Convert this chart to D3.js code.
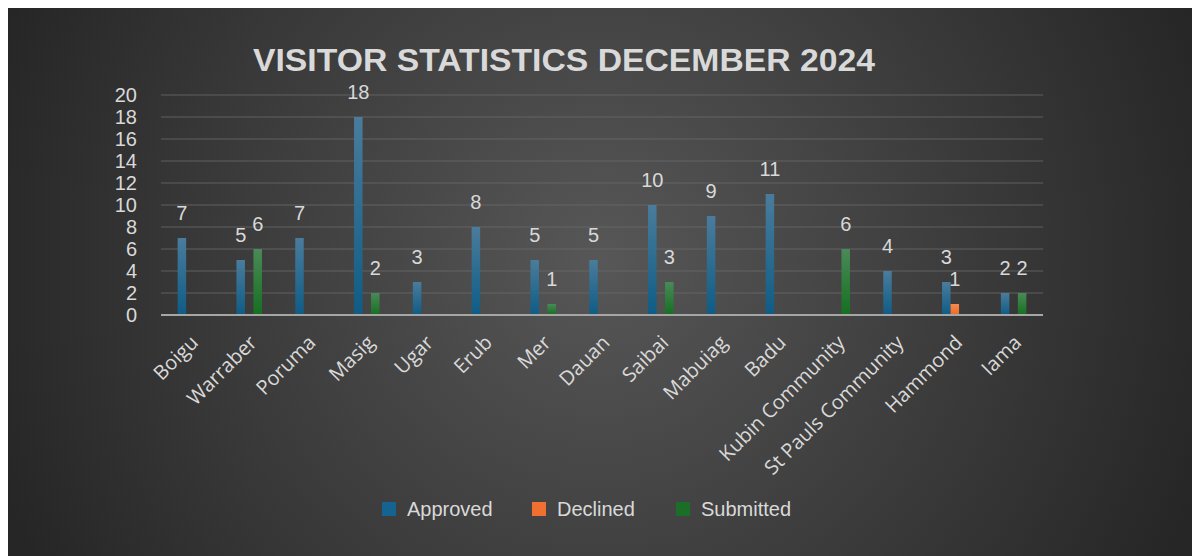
<!DOCTYPE html>
<html>
<head>
<meta charset="utf-8">
<script src="https://cdn.jsdelivr.net/npm/d3@7"></script>
<style>
  body { margin: 0; background: #fff; }
  text { font-family: "Liberation Sans", Arial, sans-serif; }
</style>
</head>
<body>
<div id="chart"></div>
<script>
var width = 1192, height = 556;
var margin = { top: 95, right: 149, bottom: 241, left: 161 };

var places = ["Boigu", "Warraber", "Poruma", "Masig", "Ugar", "Erub", "Mer", "Dauan",
  "Saibai", "Mabuiag", "Badu", "Kubin Community", "St Pauls Community", "Hammond", "Iama"];
var approved  = [7, 5, 7, 18, 3, 8, 5, 5, 10, 9, 11, 0, 4, 3, 2];
var declined  = [0, 0, 0, 0, 0, 0, 0, 0, 0, 0, 0, 0, 0, 1, 0];
var submitted = [0, 6, 0, 2, 0, 0, 1, 0, 3, 0, 0, 6, 0, 0, 2];
var seriesNames = ["Approved", "Declined", "Submitted"];
var yTicks = [0, 2, 4, 6, 8, 10, 12, 14, 16, 18, 20];

var series = [approved, declined, submitted];
var gradTop = ["#4a7c9c", "#f58a4f", "#4a8a58"];
var gradBot = ["#0e5c86", "#ee6a26", "#157020"];
var swatch = ["#156391", "#f07032", "#1a6e27"];

var innerW = width - margin.left - margin.right;
var innerH = height - margin.top - margin.bottom;

var svg = d3.select("#chart").append("svg")
    .attr("width", width)
    .attr("height", height);

var defs = svg.append("defs");
var bg = defs.append("radialGradient").attr("id", "bg")
    .attr("gradientUnits", "userSpaceOnUse")
    .attr("cx", 600).attr("cy", 260).attr("r", 640);
bg.append("stop").attr("offset", "0%").attr("stop-color", "#575757");
bg.append("stop").attr("offset", "100%").attr("stop-color", "#262626");

seriesNames.forEach(function (s, i) {
    var g = defs.append("linearGradient").attr("id", "g" + i)
        .attr("x1", 0).attr("y1", 0).attr("x2", 0).attr("y2", 1);
    g.append("stop").attr("offset", "0%").attr("stop-color", gradTop[i]);
    g.append("stop").attr("offset", "100%").attr("stop-color", gradBot[i]);
});

svg.append("rect")
    .attr("x", 8).attr("y", 8)
    .attr("width", width - 8).attr("height", height - 8)
    .attr("fill", "url(#bg)");

svg.append("text")
    .attr("x", 564).attr("y", 71)
    .attr("text-anchor", "middle")
    .attr("fill", "#d9d9d9")
    .style("font-size", "32px")
    .style("font-weight", "bold")
    .attr("textLength", 622)
    .attr("lengthAdjust", "spacingAndGlyphs")
    .text("VISITOR STATISTICS DECEMBER 2024");

var g = svg.append("g")
    .attr("transform", "translate(" + margin.left + "," + margin.top + ")");

var x0 = d3.scaleBand().domain(places).range([0, innerW]).paddingInner(0).paddingOuter(0);
var groupW = 25.5;
var x1 = d3.scaleBand().domain(seriesNames).range([0, groupW]);
var y = d3.scaleLinear().domain([0, 20]).range([innerH, 0]);

// gridlines
g.append("g").selectAll("line")
    .data(yTicks.slice(1))
    .enter().append("line")
    .attr("x1", 0).attr("x2", innerW)
    .attr("y1", function (d) { return y(d); })
    .attr("y2", function (d) { return y(d); })
    .attr("stroke", "#6a6a6a")
    .attr("stroke-opacity", 0.55)
    .attr("stroke-width", 1.5);

// y axis
var yAxis = d3.axisLeft(y).tickValues(yTicks).tickSize(0).tickPadding(24);
var ya = g.append("g").call(yAxis);
ya.select(".domain").remove();
ya.selectAll("text")
    .attr("fill", "#d9d9d9")
    .style("font-size", "20px")
    .style("font-family", "'Liberation Sans', Arial, sans-serif");

// bars
var off = (x0.bandwidth() - groupW) / 2;
series.forEach(function (vals, si) {
    var pts = vals.map(function (v, i) { return { v: v, p: places[i] }; })
        .filter(function (d) { return d.v > 0; });
    var sg = g.append("g");
    sg.selectAll("rect")
        .data(pts)
        .enter().append("rect")
        .attr("x", function (d) { return x0(d.p) + off + x1(seriesNames[si]); })
        .attr("width", x1.bandwidth())
        .attr("y", function (d) { return y(d.v); })
        .attr("height", function (d) { return innerH - y(d.v); })
        .attr("fill", "url(#g" + si + ")");
    sg.selectAll("text")
        .data(pts)
        .enter().append("text")
        .attr("x", function (d) { return x0(d.p) + off + x1(seriesNames[si]) + x1.bandwidth() / 2; })
        .attr("y", function (d) { return y(d.v) - 18; })
        .attr("text-anchor", "middle")
        .attr("fill", "#d9d9d9")
        .style("font-size", "20px")
        .text(function (d) { return d.v; });
});

// x axis line
g.append("line")
    .attr("x1", 0).attr("x2", innerW)
    .attr("y1", innerH).attr("y2", innerH)
    .attr("stroke", "#a6a6a6")
    .attr("stroke-width", 2);

// x labels
g.append("g").selectAll("text")
    .data(places)
    .enter().append("text")
    .attr("transform", function (d) {
        return "translate(" + (x0(d) + x0.bandwidth() / 2 - 1) + "," + (innerH + 19) + ") rotate(-45)";
    })
    .attr("text-anchor", "end")
    .attr("dy", "0.7em")
    .attr("fill", "#d9d9d9")
    .style("font-family", "'Open Sans', sans-serif")
    .style("font-size", "20px")
    .text(function (d) { return d; });

// legend
var legX = [382, 532, 676];
var leg = svg.append("g");
seriesNames.forEach(function (s, i) {
    leg.append("rect")
        .attr("x", legX[i]).attr("y", 502)
        .attr("width", 14).attr("height", 14)
        .attr("fill", swatch[i]);
    leg.append("text")
        .attr("x", legX[i] + 25).attr("y", 516)
        .attr("fill", "#d9d9d9")
        .style("font-size", "20px")
        .text(s);
});
</script>
</body>
</html>
